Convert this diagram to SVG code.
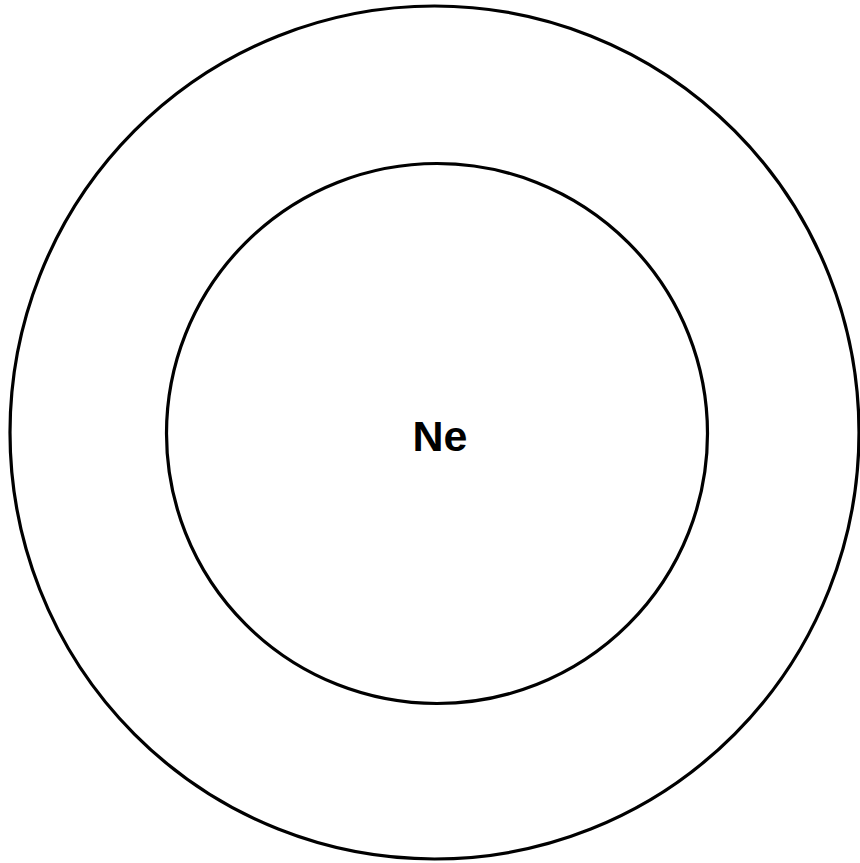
<svg xmlns="http://www.w3.org/2000/svg" width="860" height="863" viewBox="0 0 860 863">
<style>
.ring{fill:none;stroke:#000;stroke-width:3.2}
.lbl{font-family:"Liberation Sans",Arial,sans-serif;font-weight:bold;font-size:43px;fill:#000;text-anchor:middle}
</style>
<rect width="860" height="863" fill="#fff"/>
<g id="outer-shell"><ellipse class="ring" cx="434.5" cy="432.5" rx="424.5" ry="426.5"/></g>
<g id="inner-shell"><ellipse class="ring" cx="437" cy="433.5" rx="270.5" ry="270"/></g>
<g id="nucleus"><text class="lbl" x="440" y="451">Ne</text></g>
<g id="connectors"/>
</svg>
